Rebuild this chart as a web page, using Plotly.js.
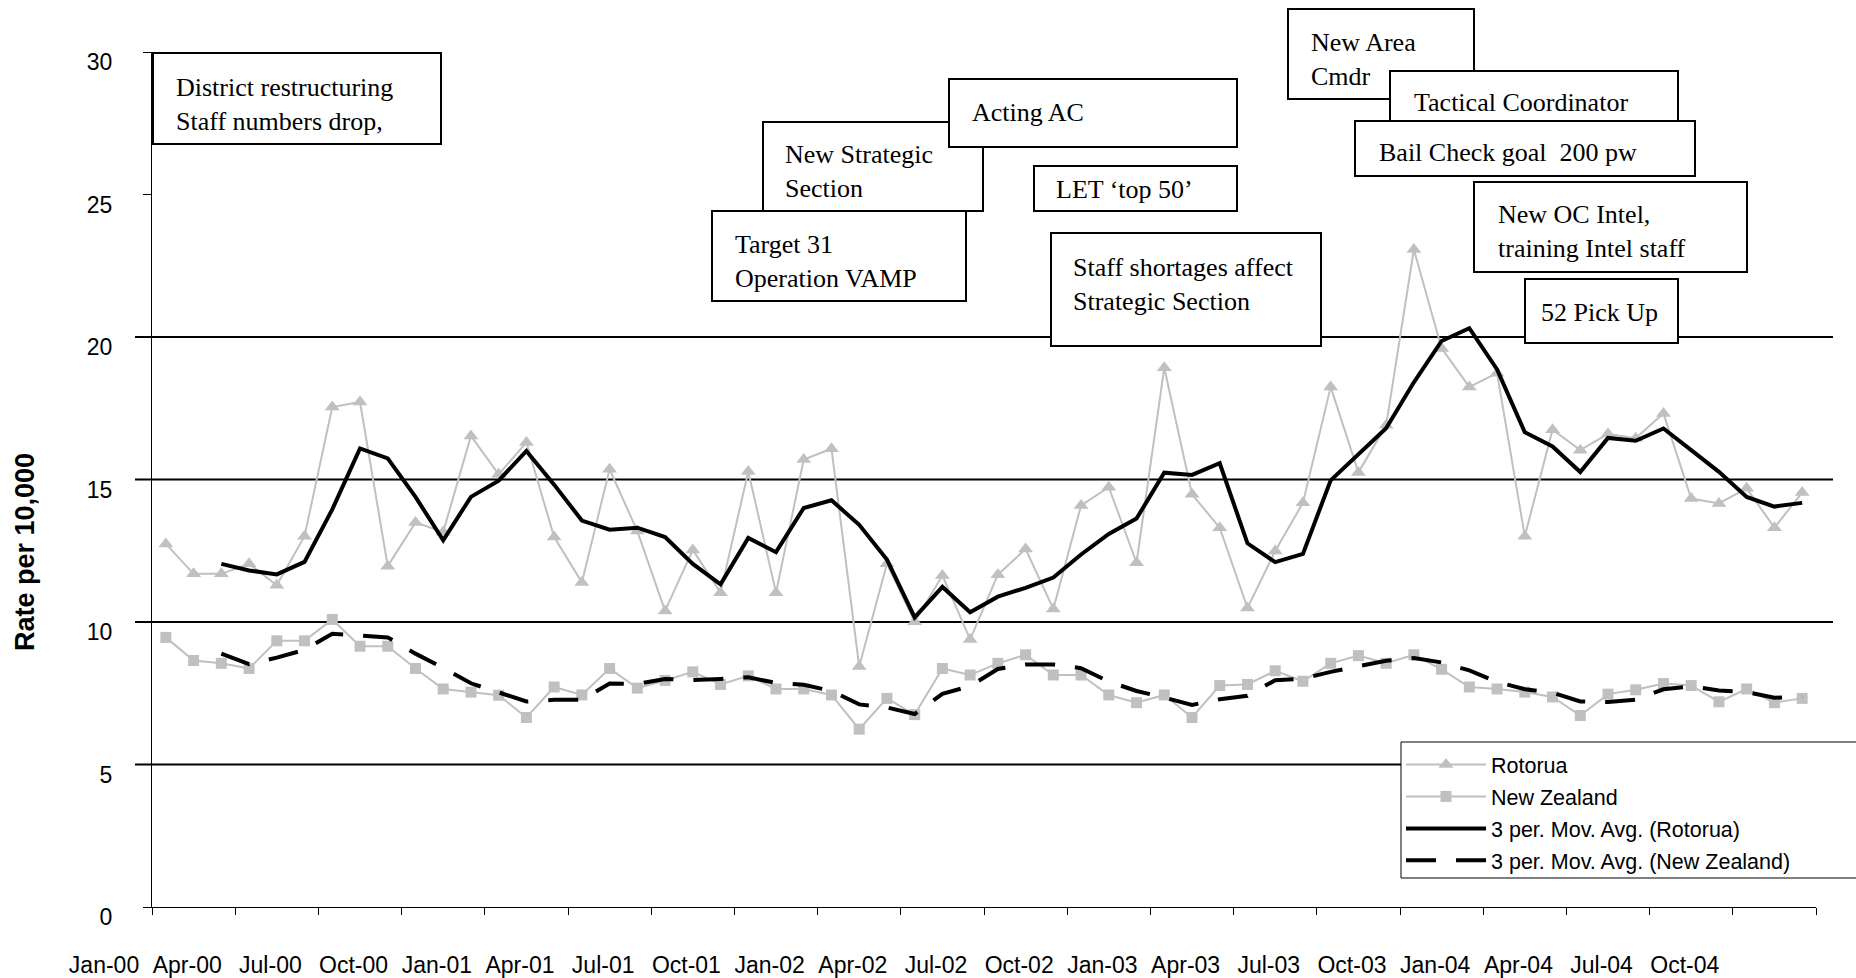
<!DOCTYPE html>
<html>
<head>
<meta charset="utf-8">
<script src="https://cdn.plot.ly/plotly-3.0.1.min.js"></script>
<style>html,body{margin:0;padding:0;background:#fff;}#chart{width:1856px;height:978px;}</style>
</head>
<body>
<div id="chart"></div>
<script>
// ---------- DATA ----------
const monthNames = ['Jan','Feb','Mar','Apr','May','Jun','Jul','Aug','Sep','Oct','Nov','Dec'];
const years = ['00','01','02','03','04'];
const months = [];
years.forEach(y => monthNames.forEach(m => months.push(m + '-' + y)));

const tickLabels = ['Jan-00','Apr-00','Jul-00','Oct-00','Jan-01','Apr-01','Jul-01','Oct-01',
  'Jan-02','Apr-02','Jul-02','Oct-02','Jan-03','Apr-03','Jul-03','Oct-03',
  'Jan-04','Apr-04','Jul-04','Oct-04'];

const rotorua = [12.74,11.69,11.69,12.04,11.29,13.01,17.54,17.72,11.96,13.49,13.16,16.53,
  15.18,16.30,12.98,11.39,15.36,13.19,10.39,12.53,11.03,15.28,11.03,15.70,
  16.08,8.44,12.04,10.01,11.63,9.39,11.66,12.56,10.46,14.09,14.73,12.08,
  18.92,14.48,13.31,10.49,12.49,14.18,18.25,15.25,16.90,23.07,19.60,18.25,
  18.73,13.01,16.75,16.03,16.60,16.45,17.32,14.33,14.16,14.69,13.31,14.54];

const newZealand = [9.46,8.65,8.55,8.37,9.34,9.34,10.09,9.15,9.15,8.37,7.65,7.54,
  7.43,6.65,7.72,7.44,8.37,7.68,7.95,8.25,7.81,8.11,7.65,7.65,
  7.44,6.24,7.32,6.75,8.37,8.14,8.55,8.85,8.14,8.14,7.44,7.17,
  7.44,6.65,7.77,7.81,8.29,7.92,8.55,8.82,8.55,8.85,8.34,7.72,
  7.65,7.54,7.37,6.72,7.47,7.62,7.84,7.77,7.20,7.65,7.17,7.32];

const maRotorua = [null,null,12.04,11.81,11.67,12.11,13.95,16.09,15.74,14.39,12.87,14.39,
  14.96,16.00,14.82,13.56,13.24,13.31,12.98,12.04,11.32,12.95,12.45,14.00,
  14.27,13.41,12.19,10.16,11.23,10.34,10.89,11.20,11.56,12.37,13.09,13.63,
  15.24,15.16,15.57,12.76,12.10,12.39,14.97,15.89,16.80,18.41,19.86,20.31,
  18.86,16.66,16.16,15.26,16.46,16.36,16.79,16.03,15.27,14.39,14.05,14.18];

const maNewZealand = [null,null,8.89,8.52,8.75,9.02,9.59,9.53,9.46,8.89,8.39,7.85,
  7.54,7.21,7.27,7.27,7.84,7.83,8.00,7.96,8.00,8.06,7.86,7.80,
  7.58,7.11,7.00,6.77,7.48,7.75,8.35,8.51,8.51,8.38,7.91,7.58,
  7.35,7.09,7.29,7.41,7.96,8.01,8.25,8.43,8.64,8.74,8.58,8.30,
  7.90,7.64,7.52,7.21,7.19,7.27,7.64,7.74,7.60,7.54,7.34,7.38];

const seriesNames = ['Rotorua','New Zealand','3 per. Mov. Avg. (Rotorua)','3 per. Mov. Avg. (New Zealand)'];

const noteTexts = [
  'District restructuring<br>Staff numbers drop,',
  'New Strategic<br>Section',
  'Target 31<br>Operation VAMP',
  'Acting AC',
  'LET \u2018top 50\u2019',
  'Staff shortages affect<br>Strategic Section',
  'New Area<br>Cmdr',
  'Tactical Coordinator',
  'Bail Check goal  200 pw',
  'New OC Intel,<br>training Intel staff',
  '52 Pick Up'
];

// ---------- LAYOUT GEOMETRY (pixels) ----------
const W = 1856, H = 978;
const M = {l: 152, r: 40, t: 52, b: 71};
const PW = W - M.l - M.r, PH = H - M.t - M.b;
const px2x = px => (px - M.l) / PW;
const px2y = py => (H - M.b - py) / PH;

// box [left, top, right, bottom] and text [left, centerY]
const noteBoxes = [
  [153, 53, 441, 144], [763, 122, 983, 211], [712, 211, 966, 301], [949, 79, 1237, 147],
  [1034, 166, 1237, 211], [1051, 233, 1321, 346], [1288, 9, 1474, 99], [1390, 71, 1678, 121],
  [1355, 121, 1695, 176], [1474, 182, 1747, 272], [1525, 279, 1678, 343]
];
const noteTextPos = [
  [174, 104], [783, 171], [733, 261], [970, 112], [1054, 190], [1071, 284],
  [1309, 60], [1412, 102], [1377, 152], [1496, 231], [1539, 312]
];
const legendBox = [1401, 742, 1875, 878];

const xIdx = months.map((m, i) => i);
const grey = '#C0C0C0';

const traces = [
  {x: xIdx, y: rotorua, name: seriesNames[0], type: 'scatter', mode: 'lines+markers',
   line: {color: grey, width: 2}, marker: {symbol: 'triangle-up', size: 13, color: grey},
   legendgroup: 'a', text: months, hoverinfo: 'text+y'},
  {x: xIdx, y: newZealand, name: seriesNames[1], type: 'scatter', mode: 'lines+markers',
   line: {color: grey, width: 2}, marker: {symbol: 'square', size: 11, color: grey},
   legendgroup: 'b', text: months, hoverinfo: 'text+y'},
  {x: xIdx, y: maRotorua, name: seriesNames[2], type: 'scatter', mode: 'lines',
   line: {color: '#000', width: 4}, legendgroup: 'c', text: months, hoverinfo: 'text+y'},
  {x: xIdx, y: maNewZealand, name: seriesNames[3], type: 'scatter', mode: 'lines',
   line: {color: '#000', width: 4, dash: '30px,20px'}, legendgroup: 'd', text: months, hoverinfo: 'text+y'}
];

const shapes = [];
[5, 10, 15, 20].forEach(v => shapes.push({
  type: 'line', xref: 'paper', yref: 'y', x0: px2x(135), x1: px2x(1833), y0: v, y1: v,
  line: {color: '#000', width: 2}, layer: 'below'
}));
noteBoxes.forEach(b => shapes.push({
  type: 'rect', xref: 'paper', yref: 'paper',
  x0: px2x(b[0]), x1: px2x(b[2]), y0: px2y(b[3]), y1: px2y(b[1]),
  line: {color: '#000', width: 2}, fillcolor: '#fff', layer: 'above'
}));
shapes.push({
  type: 'rect', xref: 'paper', yref: 'paper',
  x0: px2x(legendBox[0]), x1: px2x(legendBox[2]), y0: px2y(legendBox[3]), y1: px2y(legendBox[1]),
  line: {color: '#000', width: 1}, fillcolor: '#fff', layer: 'above'
});

const annotations = noteTexts.map((t, i) => ({
  text: t, xref: 'paper', yref: 'paper', x: px2x(noteTextPos[i][0]), y: px2y(noteTextPos[i][1]),
  xanchor: 'left', yanchor: 'middle', align: 'left', showarrow: false,
  font: {family: 'Liberation Serif, Times New Roman, serif', size: 26, color: '#000'}
}));
annotations.push({
  text: '<b>Rate per 10,000</b>', xref: 'paper', yref: 'paper', x: px2x(25), y: px2y(552),
  xanchor: 'center', yanchor: 'middle', textangle: -90, showarrow: false,
  font: {family: 'Liberation Sans, Arial, sans-serif', size: 27, color: '#000'}
});

const xTickVals = tickLabels.map((t, k) => 3 * k - 0.5).concat([months.length - 0.5]);
const xTickText = tickLabels.concat(['']);

const layout = {
  width: W, height: H,
  margin: {l: M.l, r: M.r, t: M.t, b: M.b, autoexpand: false},
  paper_bgcolor: '#fff', plot_bgcolor: '#fff',
  font: {family: 'Liberation Sans, Arial, sans-serif', color: '#000'},
  xaxis: {
    range: [-0.5, months.length - 0.5], tickmode: 'array', tickvals: xTickVals, ticktext: xTickText,
    showgrid: false, zeroline: false, showline: true, linecolor: '#000', linewidth: 1,
    ticks: 'outside', ticklen: 7, tickcolor: '#000', tickwidth: 1,
    ticklabelshift: -48, ticklabelstandoff: 30, ticklabeloverflow: 'allow',
    tickfont: {size: 23, color: '#000'}, tickangle: 0
  },
  yaxis: {
    range: [0, 30], tickmode: 'array', tickvals: [0, 5, 10, 15, 20, 25, 30],
    showgrid: false, zeroline: false, showline: true, linecolor: '#000', linewidth: 1,
    ticks: 'outside', ticklen: 8, tickcolor: '#000', tickwidth: 1,
    ticklabelshift: 10, ticklabelstandoff: 26, ticklabeloverflow: 'allow',
    tickfont: {size: 23, color: '#000'}
  },
  showlegend: true,
  legend: {
    x: px2x(1401), y: px2y(744), xanchor: 'left', yanchor: 'top',
    bgcolor: 'rgba(0,0,0,0)', borderwidth: 0,
    font: {size: 21.5, color: '#000'}, itemwidth: 80, tracegroupgap: 1,
    traceorder: 'grouped'
  },
  shapes: shapes,
  annotations: annotations
};

Plotly.newPlot('chart', traces, layout, {displayModeBar: false, staticPlot: true});
</script>
</body>
</html>
